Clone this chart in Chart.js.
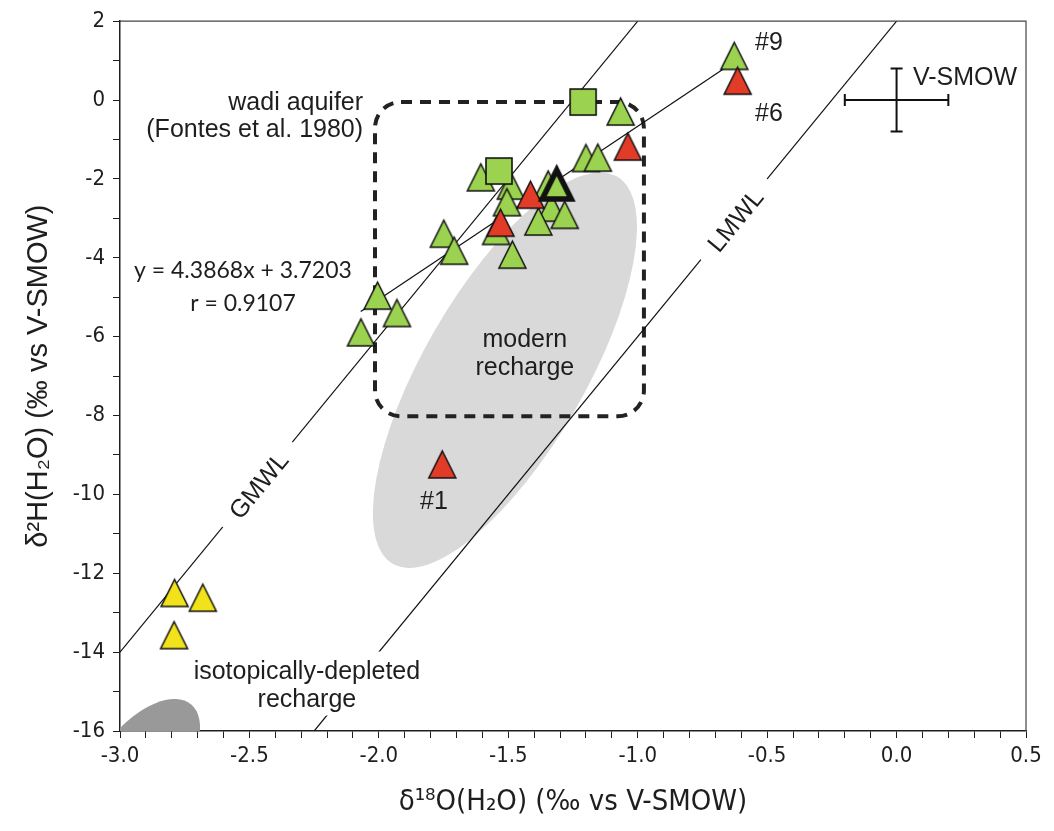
<!DOCTYPE html>
<html>
<head>
<meta charset="utf-8">
<title>δ2H vs δ18O</title>
<script src="https://cdn.jsdelivr.net/npm/chart.js@4.4.0/dist/chart.umd.min.js"></script>
<style>
    html, body { margin: 0; padding: 0; background: #fff; }
    #wrap { width: 1054px; height: 831px; position: relative; }
</style>
</head>
<body>
<div id="wrap"><canvas id="chart"></canvas></div>
<script>
/* δ2H vs δ18O das águas: pontos por grupo, retas GMWL/LMWL, ajuste linear e zonas de recarga. */
(function () {
    "use strict";

    // eixos
    var X_MIN = -3.0, X_MAX = 0.5, X_STEP = 0.1, X_LABEL_EVERY = 0.5;
    var Y_MIN = -16, Y_MAX = 2, Y_STEP = 1, Y_LABEL_EVERY = 2;

    // amostras (δ18O, δ2H)
    var GREEN_X = [-0.627, -1.066, -1.200, -1.154, -1.606, -1.490, -1.346, -1.505, -1.334, -1.282, -1.384, -1.547, -1.484, -1.749, -1.709, -2.005, -1.930, -2.069];
    var GREEN_Y = [1.12, -0.29, -1.47, -1.46, -1.96, -2.17, -2.14, -2.59, -2.73, -2.91, -3.08, -3.32, -3.92, -3.39, -3.82, -4.96, -5.40, -5.89];
    var RED_X = [-0.614, -1.038, -1.414, -1.530, -1.755];
    var RED_Y = [0.49, -1.18, -2.40, -3.11, -9.24];
    var YELLOW_X = [-2.789, -2.680, -2.791];
    var YELLOW_Y = [-12.50, -12.62, -13.57];
    var SQUARE_X = [-1.211, -1.536];
    var SQUARE_Y = [-0.05, -1.80];
    var MARKED_X = [-1.313];
    var MARKED_Y = [-2.14];

    // retas (extremos)
    var GMWL_X = [-3.0, -1.0], GMWL_Y = [-14.0, 2.0];
    var LMWL_X = [-2.25, 0.0], LMWL_Y = [-16.0, 2.0];
    var FIT_X = [-2.07, -0.63], FIT_Y = [-5.36, 0.96];

    // zonas (centro, ponta do eixo maior, ponta do eixo menor)
    var MODERN_ZONE = { center: [-1.513, -6.85], major: [-1.080, -1.94], minor: [-1.243, -7.87] };
    var DEPLETED_ZONE = { center: [-2.911, -16.78], major: [-2.725, -15.33], minor: [-2.793, -17.43] };
    var WADI_X = [-2.015, -0.976], WADI_Y = [-8.02, -0.05];

    // padrão V-SMOW e incerteza analítica
    var SMOW = [0, 0], SMOW_ERR = [0.2, 0.8];

    // textos: âncora em unidades dos eixos
    var NOTES = [
        { text: "wadi aquifer", x: -2.061, y: -0.25, align: "right" },
        { text: "(Fontes et al. 1980)", x: -2.061, y: -0.93, align: "right" },
        { text: "modern", x: -1.436, y: -6.27, align: "center" },
        { text: "recharge", x: -1.436, y: -6.97, align: "center" },
        { text: "isotopically-depleted", x: -2.278, y: -14.67, align: "center", bg: true },
        { text: "recharge", x: -2.278, y: -15.38, align: "center", bg: true },
        { text: "#9", x: -0.547, y: 1.26, align: "left" },
        { text: "#6", x: -0.547, y: -0.53, align: "left" },
        { text: "#1", x: -1.841, y: -10.36, align: "left" },
        { text: "V-SMOW", x: 0.063, y: 0.39, align: "left" }
    ];
    var FIT_NOTES = [
        { text: "y = 4.3868x + 3.7203", x: -2.525, y: -4.51 },
        { text: "r = 0.9107", x: -2.525, y: -5.34 }
    ];
    var LINE_NOTES = [
        { text: "GMWL", x: -2.463, y: -9.78, lineX: GMWL_X, lineY: GMWL_Y },
        { text: "LMWL", x: -0.621, y: -3.06, lineX: LMWL_X, lineY: LMWL_Y }
    ];

    var FONT_AXIS = '"Liberation Sans Narrow", "Arial Narrow", "DejaVu Sans Condensed", sans-serif';
    var FONT_TEXT = '"Liberation Sans", Arial, sans-serif';
    var FONT_FIT = 'Lato, "Liberation Sans", sans-serif';
    var INK = "#1e1e1e";

    function pts(xs, ys) {
        return xs.map(function (x, i) { return { x: x, y: ys[i] }; });
    }

    function triangle(fill, size, lw) {
        var pad = Math.ceil(lw * 2) + 1;
        var c = document.createElement("canvas");
        c.width = size + pad * 2; c.height = size + pad * 2;
        var g = c.getContext("2d");
        g.beginPath();
        g.moveTo(pad + size / 2, pad);
        g.lineTo(pad + size, pad + size);
        g.lineTo(pad, pad + size);
        g.closePath();
        g.fillStyle = fill; g.fill();
        g.lineWidth = lw; g.strokeStyle = "#111"; g.lineJoin = "miter"; g.stroke();
        return c;
    }

    function square(fill, size, lw) {
        var pad = Math.ceil(lw) + 1;
        var c = document.createElement("canvas");
        c.width = size + pad * 2; c.height = size + pad * 2;
        var g = c.getContext("2d");
        g.fillStyle = fill; g.fillRect(pad, pad, size, size);
        g.lineWidth = lw; g.strokeStyle = "#111"; g.strokeRect(pad, pad, size, size);
        return c;
    }

    function ellipse(ctx, xs, ys, z, fill) {
        var cx = xs.getPixelForValue(z.center[0]), cy = ys.getPixelForValue(z.center[1]);
        var mx = xs.getPixelForValue(z.major[0]) - cx, my = ys.getPixelForValue(z.major[1]) - cy;
        var nx = xs.getPixelForValue(z.minor[0]) - cx, ny = ys.getPixelForValue(z.minor[1]) - cy;
        ctx.beginPath();
        ctx.ellipse(cx, cy, Math.hypot(mx, my), Math.hypot(nx, ny), Math.atan2(my, mx), 0, Math.PI * 2);
        ctx.fillStyle = fill;
        ctx.fill();
    }

    var overlay = {
        id: "overlay",
        beforeDatasetsDraw: function (chart) {
            var ctx = chart.ctx, xs = chart.scales.x, ys = chart.scales.y, a = chart.chartArea;
            ctx.save();
            // moldura superior/direita
            ctx.strokeStyle = "#444"; ctx.lineWidth = 1.2;
            ctx.beginPath();
            ctx.moveTo(a.left, a.top); ctx.lineTo(a.right, a.top); ctx.lineTo(a.right, a.bottom);
            ctx.stroke();

            ctx.beginPath(); ctx.rect(a.left, a.top, a.right - a.left, a.bottom - a.top); ctx.clip();
            ellipse(ctx, xs, ys, MODERN_ZONE, "#d9d9d9");
            ellipse(ctx, xs, ys, DEPLETED_ZONE, "#999999");

            // aquífero do wadi (caixa tracejada)
            var l = xs.getPixelForValue(WADI_X[0]), r = xs.getPixelForValue(WADI_X[1]);
            var t = ys.getPixelForValue(WADI_Y[1]), b = ys.getPixelForValue(WADI_Y[0]);
            ctx.beginPath();
            ctx.roundRect(l, t, r - l, b - t, 26);
            ctx.setLineDash([11, 8]);
            ctx.lineWidth = 4;
            ctx.strokeStyle = "#222";
            ctx.stroke();
            ctx.restore();
        },
        afterDatasetsDraw: function (chart) {
            var ctx = chart.ctx, xs = chart.scales.x, ys = chart.scales.y;
            ctx.save();
            ctx.fillStyle = INK;
            ctx.textBaseline = "alphabetic";

            // cruz V-SMOW
            var cx = xs.getPixelForValue(SMOW[0]), cy = ys.getPixelForValue(SMOW[1]);
            var x0 = xs.getPixelForValue(SMOW[0] - SMOW_ERR[0]), x1 = xs.getPixelForValue(SMOW[0] + SMOW_ERR[0]);
            var y0 = ys.getPixelForValue(SMOW[1] - SMOW_ERR[1]), y1 = ys.getPixelForValue(SMOW[1] + SMOW_ERR[1]);
            ctx.strokeStyle = "#111"; ctx.lineWidth = 2;
            ctx.beginPath();
            ctx.moveTo(x0, cy); ctx.lineTo(x1, cy);
            ctx.moveTo(cx, y0); ctx.lineTo(cx, y1);
            ctx.moveTo(x0, cy - 6); ctx.lineTo(x0, cy + 6);
            ctx.moveTo(x1, cy - 6); ctx.lineTo(x1, cy + 6);
            ctx.moveTo(cx - 6, y0); ctx.lineTo(cx + 6, y0);
            ctx.moveTo(cx - 6, y1); ctx.lineTo(cx + 6, y1);
            ctx.stroke();

            ctx.font = "25px " + FONT_TEXT;
            // fundos brancos primeiro, para não cortar descendentes
            NOTES.forEach(function (n) {
                if (!n.bg) return;
                var px = xs.getPixelForValue(n.x), py = ys.getPixelForValue(n.y);
                var w = ctx.measureText(n.text).width;
                var lx = n.align === "center" ? px - w / 2 : (n.align === "right" ? px - w : px);
                ctx.fillStyle = "#fff";
                ctx.fillRect(lx - 8, py - 27, w + 16, 36);
            });
            ctx.fillStyle = INK;
            NOTES.forEach(function (n) {
                ctx.textAlign = n.align;
                ctx.fillText(n.text, xs.getPixelForValue(n.x), ys.getPixelForValue(n.y));
            });

            ctx.font = "23px " + FONT_FIT;
            ctx.textAlign = "center";
            FIT_NOTES.forEach(function (n) {
                ctx.fillText(n.text, xs.getPixelForValue(n.x), ys.getPixelForValue(n.y));
            });

            // rótulos sobre as retas, com fundo branco
            ctx.font = "25px " + FONT_TEXT;
            ctx.textBaseline = "middle";
            LINE_NOTES.forEach(function (n) {
                var dx = xs.getPixelForValue(n.lineX[1]) - xs.getPixelForValue(n.lineX[0]);
                var dy = ys.getPixelForValue(n.lineY[1]) - ys.getPixelForValue(n.lineY[0]);
                var w = ctx.measureText(n.text).width;
                ctx.save();
                ctx.translate(xs.getPixelForValue(n.x), ys.getPixelForValue(n.y));
                ctx.rotate(Math.atan2(dy, dx));
                ctx.fillStyle = "#fff";
                ctx.fillRect(-w / 2 - 16, -14, w + 32, 28);
                ctx.fillStyle = INK;
                ctx.fillText(n.text, 0, 1);
                ctx.restore();
            });
            ctx.restore();
        }
    };

    function lineSet(xs, ys) {
        return {
            type: "line", data: pts(xs, ys), showLine: true, borderColor: "#111", borderWidth: 1.2,
            pointRadius: 0, fill: false, tension: 0, order: 10
        };
    }

    function pointSet(xs, ys, style, order) {
        return { data: pts(xs, ys), pointStyle: style, pointRadius: 14, order: order };
    }

    var axisGrid = { drawOnChartArea: false, drawTicks: true, tickLength: 7, color: INK, lineWidth: 1 };

    new Chart(document.getElementById("chart"), {
        type: "scatter",
        data: {
            datasets: [
                lineSet(GMWL_X, GMWL_Y),
                lineSet(LMWL_X, LMWL_Y),
                lineSet(FIT_X, FIT_Y),
                pointSet(YELLOW_X, YELLOW_Y, triangle("#f2e21c", 27, 1.5), 4),
                pointSet(GREEN_X, GREEN_Y, triangle("#9bd24f", 27, 1.5), 3),
                pointSet(RED_X, RED_Y, triangle("#e23b27", 27, 1.5), 2),
                pointSet(SQUARE_X, SQUARE_Y, square("#9bd24f", 26, 1.6), 1),
                pointSet(MARKED_X, MARKED_Y, triangle("#9bd24f", 29, 5.5), 0)
            ]
        },
        options: {
            responsive: true,
            maintainAspectRatio: false,
            animation: false,
            devicePixelRatio: 1,
            layout: { padding: { top: 19, right: 28, left: 0, bottom: 0 } },
            plugins: { legend: { display: false }, tooltip: { enabled: false } },
            scales: {
                x: {
                    type: "linear", min: X_MIN, max: X_MAX,
                    afterFit: function (s) { s.height = 100; },
                    ticks: {
                        stepSize: X_STEP, autoSkip: false, maxRotation: 0, minRotation: 0, padding: 5,
                        color: INK, font: { family: FONT_AXIS, size: 22 },
                        callback: function (v) {
                            var k = Math.round(v / X_STEP);
                            var every = Math.round(X_LABEL_EVERY / X_STEP);
                            return k % every === 0 ? (k * X_STEP).toFixed(1) : "";
                        }
                    },
                    grid: axisGrid,
                    border: { color: INK, width: 1.5 },
                    title: {
                        display: true, text: "δ¹⁸O(H₂O) (‰ vs V-SMOW)", color: INK,
                        font: { family: FONT_AXIS, size: 29 }, padding: { top: 0, bottom: 11 }
                    }
                },
                y: {
                    type: "linear", min: Y_MIN, max: Y_MAX,
                    afterFit: function (s) { s.width = 120; },
                    ticks: {
                        stepSize: Y_STEP, autoSkip: false, padding: 8,
                        color: INK, font: { family: FONT_AXIS, size: 22 },
                        callback: function (v) {
                            var k = Math.round(v);
                            return k % Y_LABEL_EVERY === 0 ? String(k) : "";
                        }
                    },
                    grid: axisGrid,
                    border: { color: INK, width: 1.5 },
                    title: {
                        display: true, text: "δ²H(H₂O) (‰ vs V-SMOW)", color: INK,
                        font: { family: FONT_TEXT, size: 29 }, padding: { top: 22, bottom: 0 }
                    }
                }
            }
        },
        plugins: [overlay]
    });
})();
</script>
</body>
</html>
